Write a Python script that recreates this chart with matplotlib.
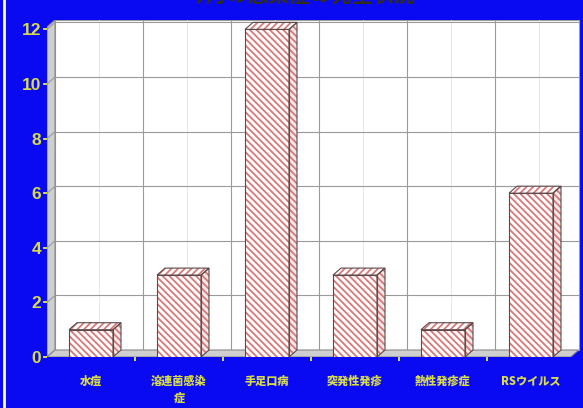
import matplotlib
matplotlib.use("Agg")
import matplotlib.pyplot as plt
from matplotlib.patches import Polygon, Rectangle

plt.rcParams['font.family'] = ['Noto Sans CJK JP', 'DejaVu Sans']
plt.rcParams['hatch.linewidth'] = 1.3

categories = ["水痘", "溶連菌感染\n症", "手足口病", "突発性発疹", "熱性発疹症", "RSウイルス"]
values = [1, 3, 12, 3, 1, 6]
yticks = [0, 2, 4, 6, 8, 10, 12]
title = "今月の感染症の発生状況"

BLUE = "#0a0af2"
YEL = "#d8dc48"
W, H = 583, 408
fig = plt.figure(figsize=(W / 100, H / 100), dpi=100)
fig.patch.set_facecolor(BLUE)

# axes geometry in pixels
x0p, y0p, topp, rightp = 47, 357, 20, 583
ppx, ppy = 88.0, 27.3
ax = fig.add_axes([x0p / W, (H - y0p) / H, (rightp - x0p) / W, (y0p - topp) / H])
xmax = (rightp - x0p) / ppx
ymax = (y0p - topp) / ppy
ax.set_xlim(0, xmax)
ax.set_ylim(0, ymax)
ax.set_facecolor(BLUE)
for s in ax.spines.values():
    s.set_visible(False)

dx, dy = 8 / ppx, 7 / ppy
xr = xmax - 0.05

# back wall
ax.add_patch(Polygon([(dx, dy), (xr, dy), (xr, ymax), (dx, ymax)],
                     closed=True, facecolor="white", edgecolor="#9a9a9a", lw=0.8, zorder=0))
# left wall
ax.add_patch(Polygon([(0, 0), (dx, dy), (dx, ymax), (0, ymax - dy)],
                     closed=True, facecolor="#cfcfcf", edgecolor="#8a8a8a", lw=0.8, zorder=1))
# floor
ax.add_patch(Polygon([(0, 0), (xr - dx, 0), (xr, dy), (dx, dy)],
                     closed=True, facecolor="#cfcfcf", edgecolor="#8a8a8a", lw=0.8, zorder=1))

# gridlines on back wall
for t in yticks[1:]:
    ax.plot([dx, xr], [t + dy, t + dy], color="#9a9a9a", lw=0.8, zorder=0.5)
    ax.plot([0, dx], [t, t + dy], color="#9a9a9a", lw=0.8, zorder=1.5)
for k in range(1, 6):
    ax.plot([k + dx, k + dx], [dy, ymax], color="#9a9a9a", lw=0.8, zorder=0.5)
    ax.plot([k - 0.5 + dx, k - 0.5 + dx], [dy, ymax], color="#e4e4e4", lw=0.6, zorder=0.4)
ax.plot([5.5 + dx, 5.5 + dx], [dy, ymax], color="#e4e4e4", lw=0.6, zorder=0.4)

# bars
HC = "#d87878"
EC = "#5a4a4a"
for i, v in enumerate(values):
    a, b = i + 0.25, i + 0.75
    side = [(b, 0), (b + dx, dy), (b + dx, v + dy), (b, v)]
    top = [(a, v), (b, v), (b + dx, v + dy), (a + dx, v + dy)]
    ax.add_patch(Polygon(side, closed=True, facecolor="#f2e8e8", edgecolor=HC, hatch="\\\\\\\\\\", lw=0, zorder=3))
    ax.add_patch(Polygon(side, closed=True, fill=False, edgecolor=EC, lw=0.8, zorder=3.1))
    ax.add_patch(Polygon(top, closed=True, facecolor="white", edgecolor=HC, hatch="/////", lw=0, zorder=3))
    ax.add_patch(Polygon(top, closed=True, fill=False, edgecolor=EC, lw=0.8, zorder=3.1))
    ax.add_patch(Rectangle((a, 0), b - a, v, facecolor="white", edgecolor=HC, hatch="\\\\\\\\\\", lw=0, zorder=3))
    ax.add_patch(Rectangle((a, 0), b - a, v, fill=False, edgecolor=EC, lw=0.8, zorder=3.1))

# ticks
ax.set_yticks(yticks)
ax.set_yticklabels([str(t) for t in yticks], color=YEL, fontsize=12.5, fontweight="bold",
                   family=["Liberation Sans", "DejaVu Sans"])
ax.tick_params(axis="y", colors=YEL, length=3, width=1.4, pad=1)
ax.set_xticks(range(1, 6))
ax.set_xticklabels([])
ax.tick_params(axis="x", which="major", colors=YEL, length=3, width=1.4)
ax.set_xticks([i + 0.5 for i in range(6)], minor=True)
ax.set_xticklabels(categories, minor=True, color=YEL, fontsize=8, fontweight="black",
                   va="top", linespacing=1.5)
ax.tick_params(axis="x", which="minor", length=0, pad=13)

# title (cut off at top, as in the reference)
fig.text(300 / W, 1 + 4 / H, title, ha="center", va="center", fontsize=15,
         fontweight="bold", color="#303010")

# left white line
fig.add_artist(plt.Line2D([4 / W, 4 / W], [0, 1], color="white", lw=2, transform=fig.transFigure))

fig.savefig("out.png", dpi=100, facecolor=BLUE)
